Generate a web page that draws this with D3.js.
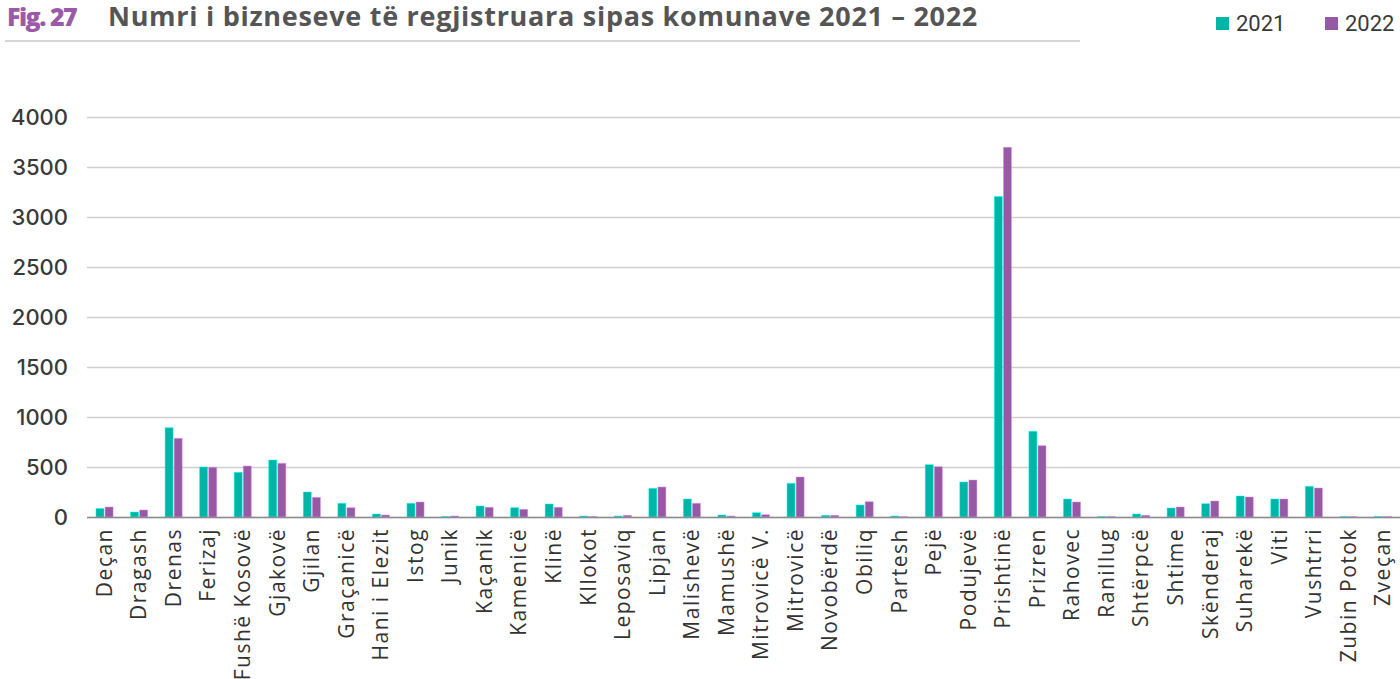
<!DOCTYPE html>
<html><head><meta charset="utf-8">
<script src="https://cdn.jsdelivr.net/npm/d3@7/dist/d3.min.js"></script>
<style>body{margin:0;background:#fff;overflow:hidden}svg{display:block}</style>
</head><body>
<svg id="c" width="1400" height="679"></svg>
<script>
const categories = ["Deçan","Dragash","Drenas","Ferizaj","Fushë Kosovë","Gjakovë","Gjilan","Graçanicë","Hani i Elezit","Istog","Junik","Kaçanik","Kamenicë","Klinë","Kllokot","Leposaviq","Lipjan","Malishevë","Mamushë","Mitrovicë V.","Mitrovicë","Novobërdë","Obiliq","Partesh","Pejë","Podujevë","Prishtinë","Prizren","Rahovec","Ranillug","Shtërpcë","Shtime","Skënderaj","Suharekë","Viti","Vushtrri","Zubin Potok","Zveçan"];
const values2021 = [85,50,893,500,447,570,250,137,30,137,5,110,93,130,10,10,287,180,20,43,337,17,120,10,523,350,3205,857,180,4,30,90,133,210,180,307,4,5];
const values2022 = [100,70,787,497,510,537,197,93,20,150,10,97,77,97,5,17,300,137,10,23,400,17,153,3,503,370,3697,713,150,4,17,100,160,200,180,290,4,5];
const seriesNames = ["2021","2022"];
const seriesColors = ["#00b5a5","#955aa3"];
const yTicks = [0,500,1000,1500,2000,2500,3000,3500,4000];
const titlePrefix = "Fig. 27";
const titleText = "Numri i bizneseve të regjistruara sipas komunave 2021 – 2022";

(function(){
const svg = d3.select("#c");
const mLeft = 87, mRight = 1400, mTop = 117, mBottom = 517;
const x0 = d3.scaleBand().domain(categories).range([mLeft, mRight]).padding(0);
const bw = x0.bandwidth();
const x1 = d3.scaleBand().domain(seriesNames).range([bw/2 - 8.3, bw/2 + 8.8]).paddingInner(0.12);
const y = d3.scaleLinear().domain([0,4000]).range([mBottom, mTop]);

// gridlines + y tick labels
const yAxis = d3.axisLeft(y).tickValues(yTicks).tickSize(-(mRight-mLeft)).tickPadding(19).tickFormat(d3.format("d"));
const gy = svg.append("g").attr("transform", `translate(${mLeft},0)`).call(yAxis);
gy.select(".domain").remove();
gy.selectAll(".tick line").attr("stroke", "#cfcfcf").attr("stroke-width", 1.5);
gy.selectAll(".tick text").attr("fill", "#3a3a3a").style("font-family", "Inter, Lato, sans-serif").style("font-weight", 500).style("font-size", "22px").attr("x", -19).attr("dy", "0.36em");

// bars
const data = categories.map((c,i)=>({c, v:[values2021[i], values2022[i]]}));
const groups = svg.append("g").selectAll("g").data(data).join("g")
  .attr("transform", d => `translate(${x0(d.c)},0)`);
groups.selectAll("rect").data(d => d.v.map((v,j)=>({s:seriesNames[j], v, j}))).join("rect")
  .attr("x", d => x1(d.s))
  .attr("width", x1.bandwidth())
  .attr("y", d => y(d.v))
  .attr("height", d => mBottom - y(d.v))
  .attr("fill", d => seriesColors[d.j])
  .attr("stroke", d => d3.color(seriesColors[d.j]).brighter(1.2))
  .attr("stroke-width", 0.8)
  .attr("stroke-opacity", 0.6);

// baseline
svg.append("line").attr("x1", mLeft).attr("x2", mRight).attr("y1", mBottom+0.5).attr("y2", mBottom+0.5)
  .attr("stroke", "#8c8c8c").attr("stroke-width", 1.5);

// x labels
const xAxis = d3.axisBottom(x0).tickSize(0).tickPadding(0);
const gx = svg.append("g").attr("transform", `translate(0,${mBottom})`).call(xAxis);
gx.select(".domain").remove();
gx.selectAll(".tick text")
  .attr("fill", "#333")
  .style("font-family", "'Open Sans', sans-serif")
  .style("font-size", "21px")
  .style("letter-spacing", "1.5px")
  .attr("text-anchor", "end")
  .attr("transform", "rotate(-90)")
  .attr("x", -11).attr("y", 0).attr("dy", "0.36em");

// title
svg.append("text").attr("x", 7).attr("y", 26)
  .style("font-family", "'Open Sans', sans-serif").style("font-weight", 800).style("font-size", "25px")
  .attr("fill", "#9b5aa8").style("letter-spacing", "-1.5px").text(titlePrefix);
const tt = svg.append("text").attr("x", 108).attr("y", 26)
  .style("font-family", "'Open Sans', sans-serif").style("font-weight", 700).style("font-size", "27px")
  .attr("fill", "#555").text(titleText);
const tw = tt.node().getComputedTextLength();
const nChars = titleText.length;
tt.style("letter-spacing", ((870 - tw) / nChars) + "px");
svg.append("line").attr("x1", 5).attr("x2", 1080).attr("y1", 41).attr("y2", 41).attr("stroke", "#d6d6d6").attr("stroke-width", 2);

// legend
const legX = [1216, 1325];
const lg = svg.append("g");
seriesNames.forEach((s,i)=>{
  lg.append("rect").attr("x", legX[i]).attr("y", 17).attr("width", 13).attr("height", 13).attr("fill", seriesColors[i]);
  lg.append("text").attr("x", legX[i]+20).attr("y", 31).text(s)
    .attr("fill", "#3a3a3a").style("font-family", "Roboto, sans-serif").style("font-size", "22px");
});
})();
</script>
</body></html>
